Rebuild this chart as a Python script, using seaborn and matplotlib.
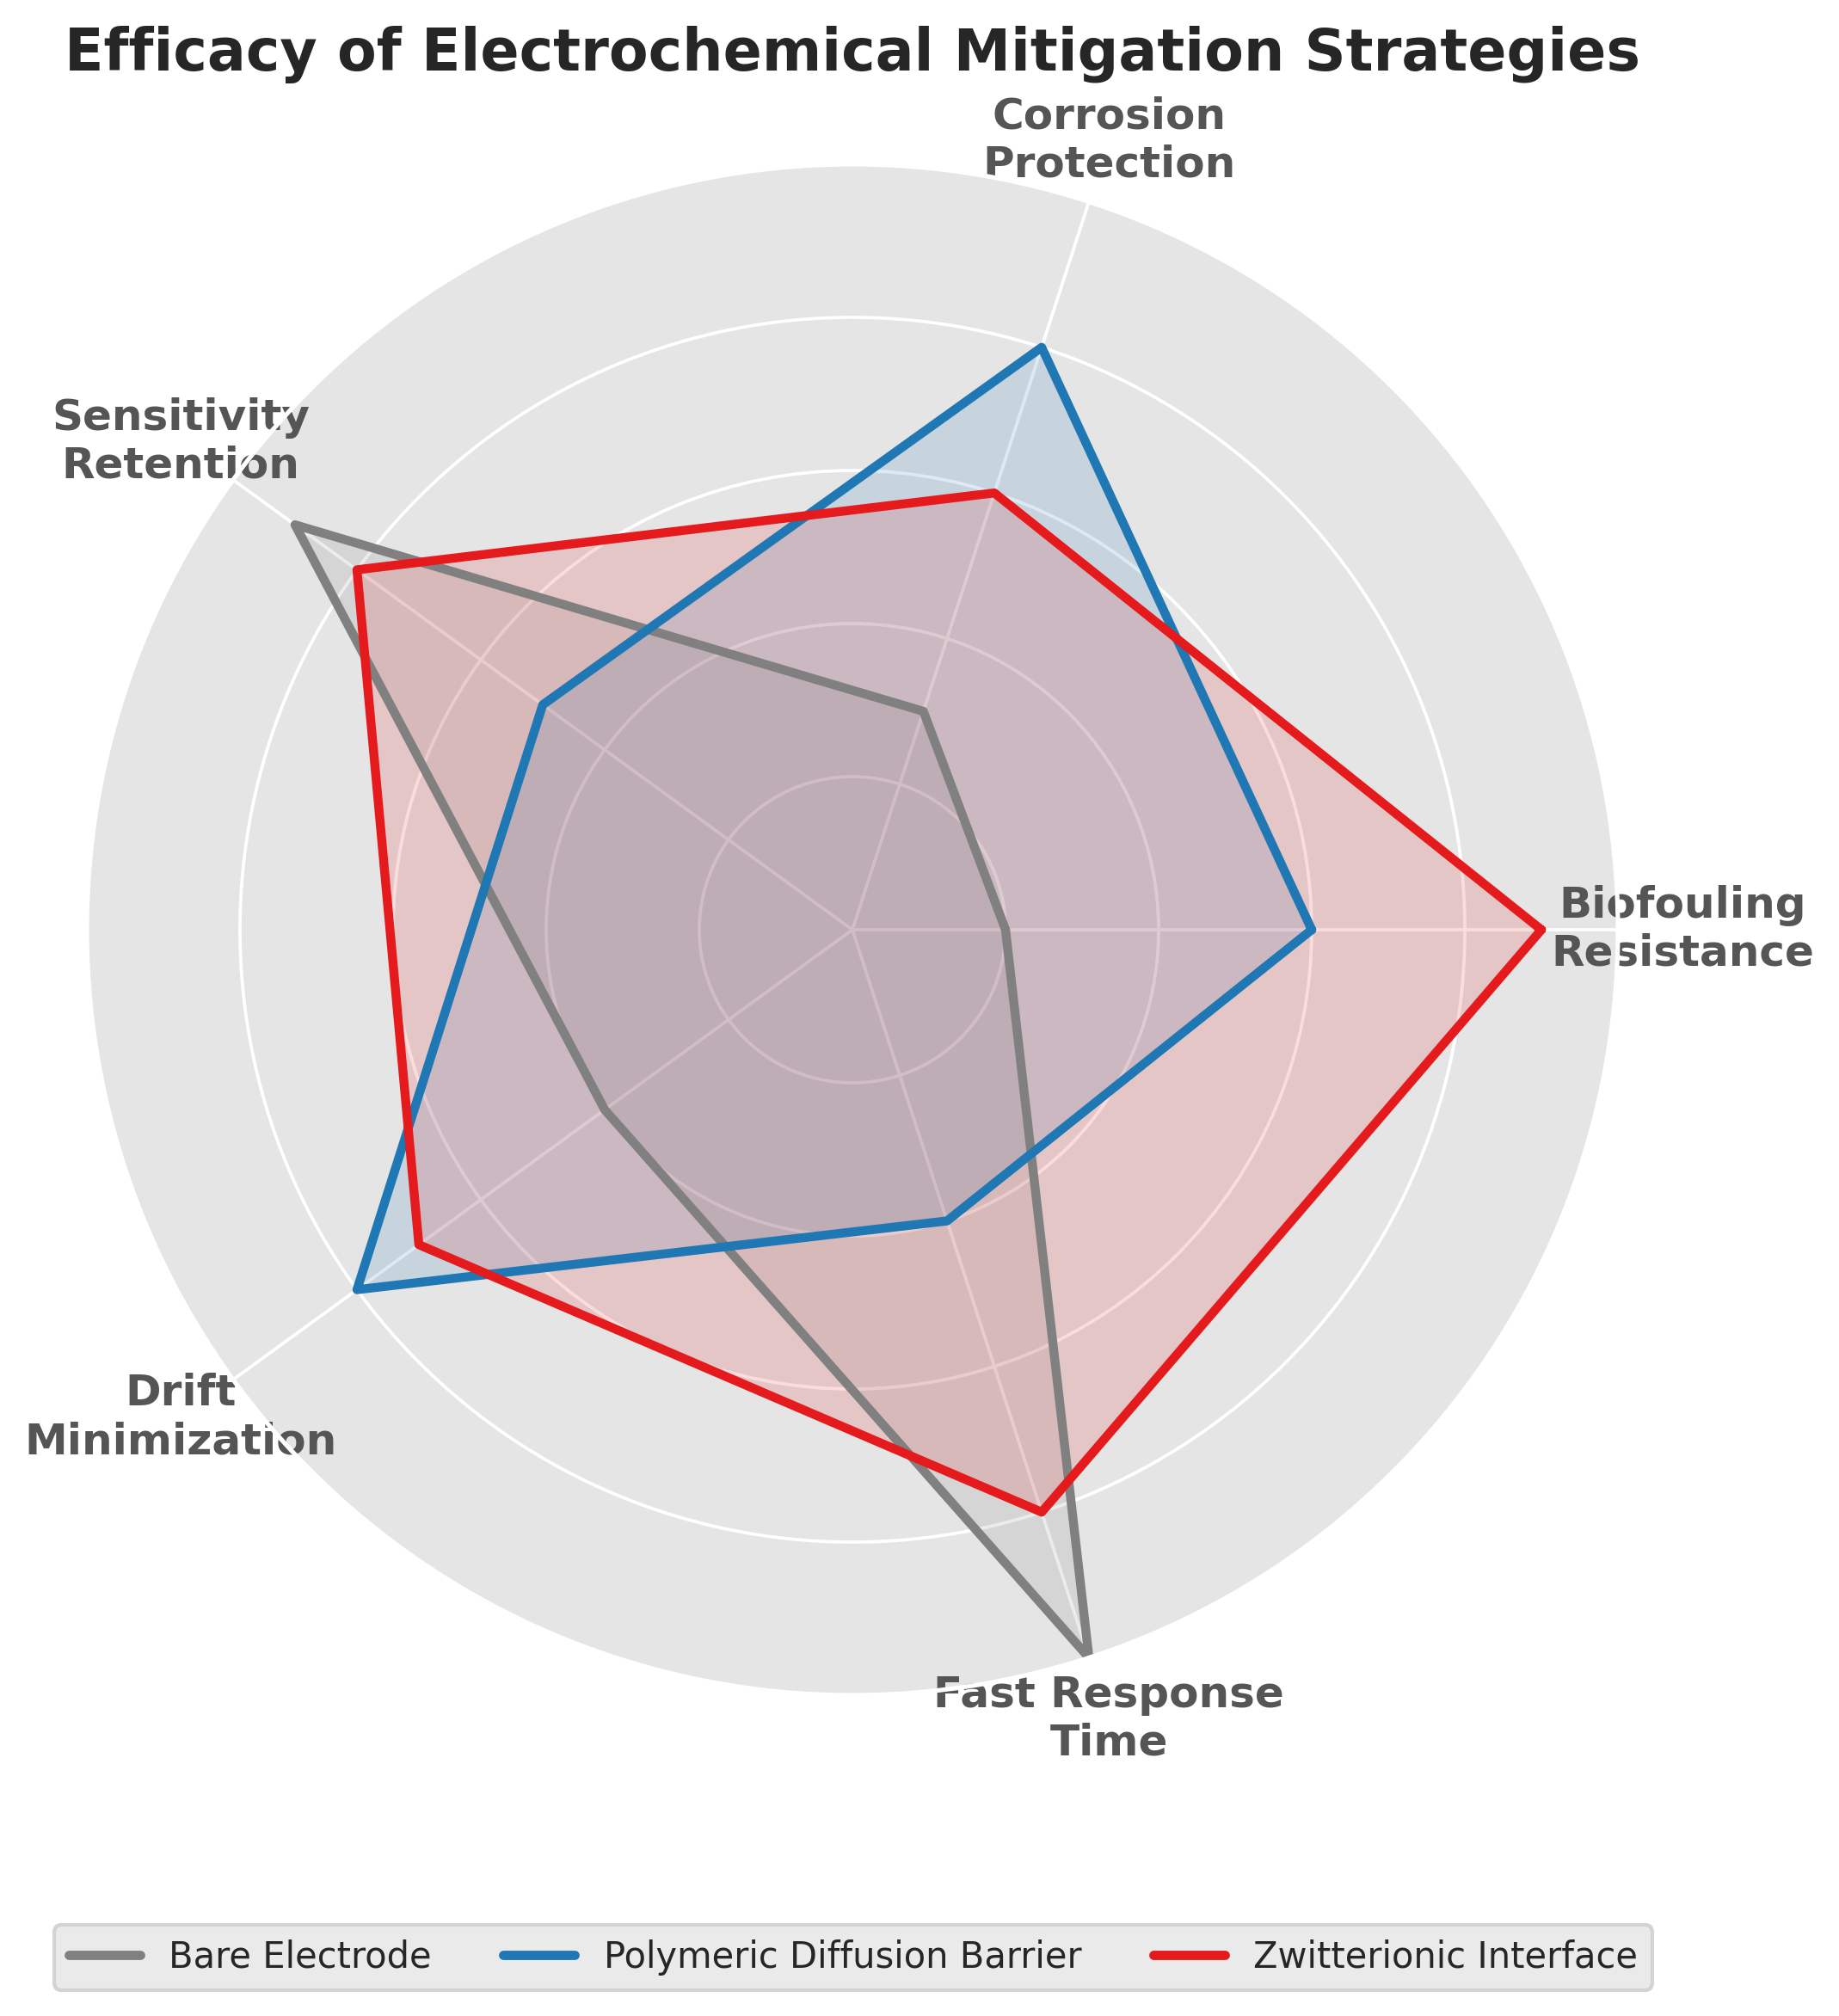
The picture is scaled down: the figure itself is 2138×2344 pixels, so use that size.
import numpy as np
import pandas as pd
import matplotlib.pyplot as plt
from matplotlib.lines import Line2D
import seaborn as sns

categories = ["Biofouling\nResistance", "Corrosion\nProtection", "Sensitivity\nRetention",
              "Drift\nMinimization", "Fast Response\nTime"]
strategies = ["Bare Electrode", "Polymeric Diffusion Barrier", "Zwitterionic Interface"]
bare_electrode = [2, 3, 9, 4, 10]
polymeric_barrier = [6, 8, 5, 8, 4]
zwitterionic = [9, 6, 8, 7, 8]
colors = ["#808080", "#1f77b4", "#e41a1c"]

sns.set_theme(style="darkgrid", rc={"axes.facecolor": "#E5E5E5", "axes.edgecolor": "white",
                                    "grid.color": "white", "grid.linewidth": 0.9})
plt.rcParams["font.family"] = ["DejaVu Sans"]

W, H = 2138, 2344
fig = plt.figure(figsize=(W / 300, H / 300), dpi=300)
ax = fig.add_axes([101 / W, 1 - 1971 / H, 1780 / W, 1780 / H], projection="polar")

angles = np.linspace(0, 2 * np.pi, len(categories), endpoint=False)
closed = np.append(angles, 2 * np.pi)

rows = []
for name, vals in zip(strategies, [bare_electrode, polymeric_barrier, zwitterionic]):
    v = list(vals) + [vals[0]]
    for a, val in zip(closed, v):
        rows.append({"strategy": name, "angle": a, "value": val})
df = pd.DataFrame(rows)

palette = dict(zip(strategies, colors))
sns.lineplot(data=df, x="angle", y="value", hue="strategy", palette=palette, sort=False,
             estimator=None, linewidth=2.5, ax=ax, legend=False)
for name in strategies:
    sub = df[df.strategy == name]
    ax.fill(sub.angle, sub.value, color=palette[name], alpha=0.15, zorder=1)

ax.set_ylim(0, 10)
ax.set_yticks([2, 4, 6, 8])
ax.set_yticklabels([])
ax.set_xticks(angles)
ax.set_xticklabels(categories, fontsize=12, fontweight="bold", color="#555555")
ax.tick_params(axis="x", pad=5)
ax.set_xlabel("")
ax.set_ylabel("")

fig.text(991 / W, 1 - 82 / H, "Efficacy of Electrochemical Mitigation Strategies",
         ha="center", va="baseline", fontsize=16, fontweight="bold", color="#262626")

handles = [Line2D([0], [0], color=c, lw=2.6, solid_capstyle="round") for c in colors]
fig.legend(handles, strategies, loc="center", bbox_to_anchor=(992 / W, 1 - 2276 / H), ncol=3,
           fontsize=10, frameon=True, facecolor="#E5E5E5", framealpha=0.8, edgecolor="#CCCCCC")

fig.savefig("out.png", dpi=300)
